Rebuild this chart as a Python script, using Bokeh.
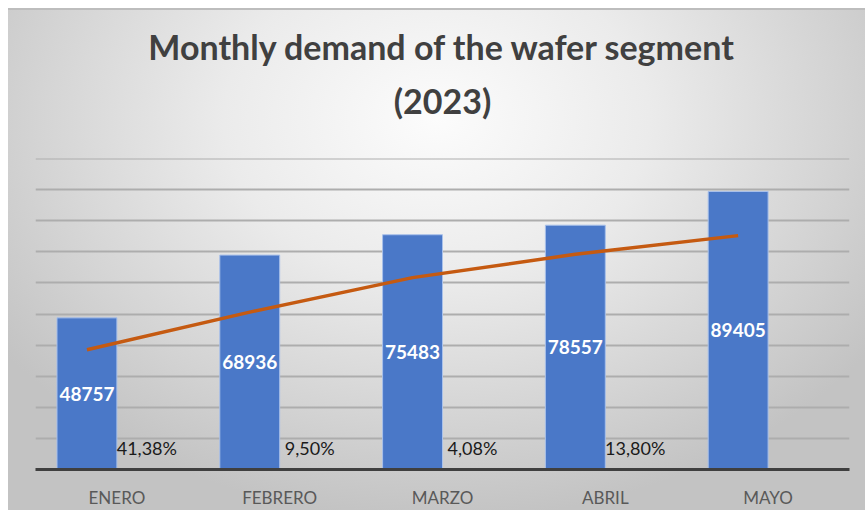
from bokeh.plotting import figure
from bokeh.models import ColumnDataSource, FactorRange, Range1d, FixedTicker, Title, Span
from bokeh.transform import dodge
from bokeh.core.properties import value
from bokeh.embed import file_html
from bokeh.resources import INLINE

months = ["ENERO", "FEBRERO", "MARZO", "ABRIL", "MAYO"]
demand = [48757, 68936, 75483, 78557, 89405]
growth_labels = ["41,38%", "9,50%", "4,08%", "13,80%", ""]
trend = [38500, 50600, 61700, 69200, 75200]
y_ticks = [0, 10000, 20000, 30000, 40000, 50000, 60000, 70000, 80000, 90000, 100000]
title_lines = ["Monthly demand of the wafer segment", "(2023)"]

src = ColumnDataSource(dict(
    month=months,
    demand=demand,
    mid=[v / 2 for v in demand],
    label=[str(v) for v in demand],
    growth=growth_labels,
    zero=[0] * len(months),
    trend=trend,
))

FONT = "Lato"

p = figure(
    x_range=FactorRange(*months, range_padding=0),
    y_range=Range1d(0, 100000),
    width=865, height=510,
    output_backend="svg", toolbar_location=None,
    min_border_left=35, min_border_right=16, min_border_bottom=40, min_border_top=0,
)
p.title.visible = False
p.border_fill_color = None
p.background_fill_color = None
p.outline_line_color = None
p.styles = {
    "background-color": "white",
    "background-image": "linear-gradient(#bdbdbd, #bdbdbd), radial-gradient(ellipse 62% 80% at 50% 22%, #fcfcfc 0%, #ebebeb 40%, #d4d4d4 75%, #c3c3c3 100%)",
    "background-position": "8px 8px, 8px 8px",
    "background-size": "857px 2px, 857px 502px",
    "background-repeat": "no-repeat",
}

t_gap = Title(text=" ", align="center", text_font=FONT, text_font_size="20px", standoff=0)
t2 = Title(text=title_lines[1], align="center", text_font=FONT, text_font_style="bold",
           text_font_size="34px", text_color="#404040", standoff=22.5, text_line_height=0.75)
t1 = Title(text=title_lines[0], align="center", text_font=FONT, text_font_style="bold",
           text_font_size="34px", text_color="#404040", standoff=0, text_line_height=0.75)
t_space = Title(text=" ", align="center", text_font=FONT, text_font_size="17px", standoff=0)
p.add_layout(t_gap, "above")
p.add_layout(t2, "above")
p.add_layout(t1, "above")
p.add_layout(t_space, "above")

p.yaxis.visible = False
p.yaxis.ticker = FixedTicker(ticks=y_ticks)
p.ygrid.grid_line_color = "#adadad"
p.ygrid.grid_line_width = 2
p.xgrid.visible = False
p.add_layout(Span(location=y_ticks[-1], dimension="width", line_color="#adadad", line_width=2))

p.xaxis.axis_line_color = "#3f3f3f"
p.xaxis.axis_line_width = 3
p.xaxis.major_tick_line_color = None
p.xaxis.minor_tick_line_color = None
p.xaxis.major_label_text_font = FONT
p.xaxis.major_label_text_font_size = "17px"
p.xaxis.major_label_text_color = "#595959"
p.xaxis.major_label_standoff = 11

bar_x = dodge("month", -0.184, range=p.x_range)
lab_x = dodge("month", 0.184, range=p.x_range)

p.vbar(x=bar_x, top="demand", width=0.368, source=src,
       fill_color="#4a78c8", line_color="#a9c1ea", line_width=1)

p.line(x=bar_x, y="trend", source=src, line_color="#C55A11", line_width=3.5)

p.text(x=bar_x, y="mid", text="label", source=src, text_align="center", text_baseline="middle",
       text_color="white", text_font=value(FONT), text_font_style="bold", text_font_size="19px")

p.text(x=lab_x, y="zero", text="growth", source=src, y_offset=-22, text_align="center",
       text_baseline="middle", text_color="#1a1a1a", text_font=value(FONT), text_font_size="18px")

open("out.html", "w").write(file_html(p, INLINE))
